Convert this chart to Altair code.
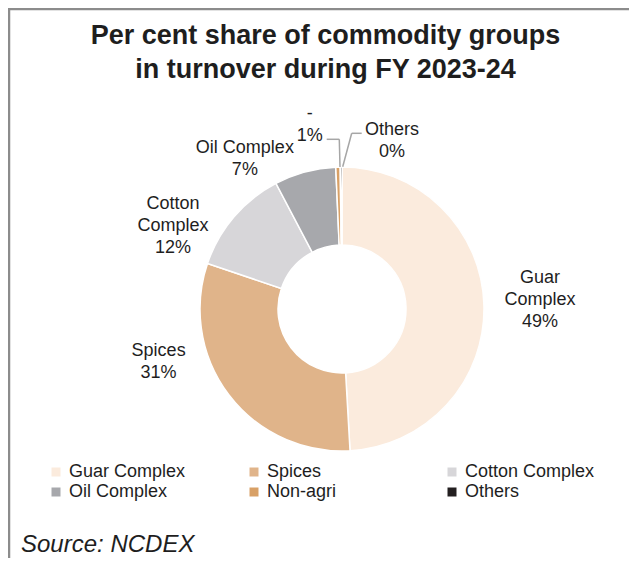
import altair as alt
import pandas as pd

# ---- data ----
categories = ["Guar Complex", "Spices", "Cotton Complex", "Oil Complex", "Non-agri", "Others"]
shares = [49.1, 31.1, 12.1, 7.0, 0.5, 0.2]
label_names = ["Guar\nComplex", "Spices", "Cotton\nComplex", "Oil Complex", "-", "Others"]
colors = ["#FBEBDD", "#E0B48A", "#D7D6D9", "#A7A8AC", "#D8A066", "#231F20"]
# legend fills column by column: order entries so rows read as in the reference
legend_order = ["Guar Complex", "Oil Complex", "Spices", "Non-agri", "Cotton Complex", "Others"]
title_lines = ["Per cent share of commodity groups", "in turnover during FY 2023-24"]
source_text = "Source: NCDEX"

FONT = "Liberation Sans, Arial, sans-serif"
TXT = "#1e1e1e"
W, H = 621, 550
CX, CY = 334, 301
R_OUT, R_IN = 142, 64

df = pd.DataFrame({
    "category": categories,
    "value": shares,
    "idx": list(range(len(categories))),
    "label": [f"{n}\n{int(v + 0.5)}%" for n, v in zip(label_names, shares)],
})

theta_scale = alt.Scale(domain=[0, 100])

donut = alt.Chart(df).mark_arc(
    innerRadius=R_IN, outerRadius=R_OUT, stroke="white", strokeWidth=1.5
).encode(
    theta=alt.Theta("value:Q", stack=True, scale=theta_scale),
    order=alt.Order("idx:Q"),
    color=alt.Color(
        "category:N",
        scale=alt.Scale(domain=categories, range=colors),
        legend=alt.Legend(
            orient="none", legendX=39, legendY=455, columns=3, title=None,
            values=legend_order,
            symbolType="square", symbolSize=81, symbolStrokeWidth=0,
            labelFontSize=18, labelFont=FONT, labelColor=TXT, labelOffset=4,
            columnPadding=46, rowPadding=2, gridAlign="all", padding=0,
            labelLimit=300,
        ),
    ),
    x=alt.value(CX),
    y=alt.value(CY),
)

# per-label offsets from the slice mid-angle anchor (styling only)
offsets = {
    "Guar Complex": (48, -22),
    "Spices": (-64, -44),
    "Cotton Complex": (-55, -3),
    "Oil Complex": (-58, -11),
    "Non-agri": (-28, -40),
    "Others": (51, -24),
}


def label_layer(cat):
    dx, dy = offsets[cat]
    return alt.Chart(df).transform_window(
        cum="sum(value)", sort=[alt.SortField("idx")], frame=[None, 0]
    ).transform_calculate(
        mid="datum.cum - datum.value / 2"
    ).transform_filter(
        alt.datum.category == cat
    ).mark_text(
        radius=150, dx=dx, dy=dy, align="center", baseline="alphabetic",
        lineBreak="\n", lineHeight=22, fontSize=18, font=FONT, color=TXT,
    ).encode(
        theta=alt.Theta("mid:Q", scale=theta_scale),
        text="label:N",
        x=alt.value(CX),
        y=alt.value(CY),
    )


labels = [label_layer(c) for c in categories]

one = pd.DataFrame({"k": [0]})
LEAD = "#A6A6A6"


def seg(x1, y1, x2, y2, color=LEAD, sw=1.5):
    return alt.Chart(one).mark_rule(color=color, strokeWidth=sw).encode(
        x=alt.value(x1), y=alt.value(y1), x2=alt.value(x2), y2=alt.value(y2)
    )


leaders = [
    seg(318.7, 131.3, 331.3, 131.3),
    seg(331.3, 131.3, 332.0, 159.0),
    seg(353.7, 125.3, 343.7, 125.3),
    seg(343.7, 125.3, 334.7, 158.7),
]

frame = [
    seg(0, 1, W, 1, color="#8c8c8c", sw=2.5),
    seg(1, 0, 1, H, color="#8c8c8c", sw=2.5),
]

title = alt.Chart(one).mark_text(
    align="center", baseline="alphabetic", fontSize=27, fontWeight="bold",
    font=FONT, color=TXT, lineHeight=34.5,
).encode(
    text=alt.value(title_lines), x=alt.value(317.5), y=alt.value(35.5)
)

source = alt.Chart(one).mark_text(
    align="left", baseline="alphabetic", fontSize=24, fontStyle="italic",
    font=FONT, color=TXT,
).encode(
    text=alt.value(source_text), x=alt.value(13), y=alt.value(544)
)

chart = alt.layer(
    *frame, donut, *labels, *leaders, title, source
).resolve_scale(
    theta="independent"
).properties(
    width=W, height=H, autosize=alt.AutoSizeParams(type="none"), padding=0,
    background="white",
).configure_view(stroke=None)

chart.save("out.html", embed_options={"renderer": "svg", "actions": False})
